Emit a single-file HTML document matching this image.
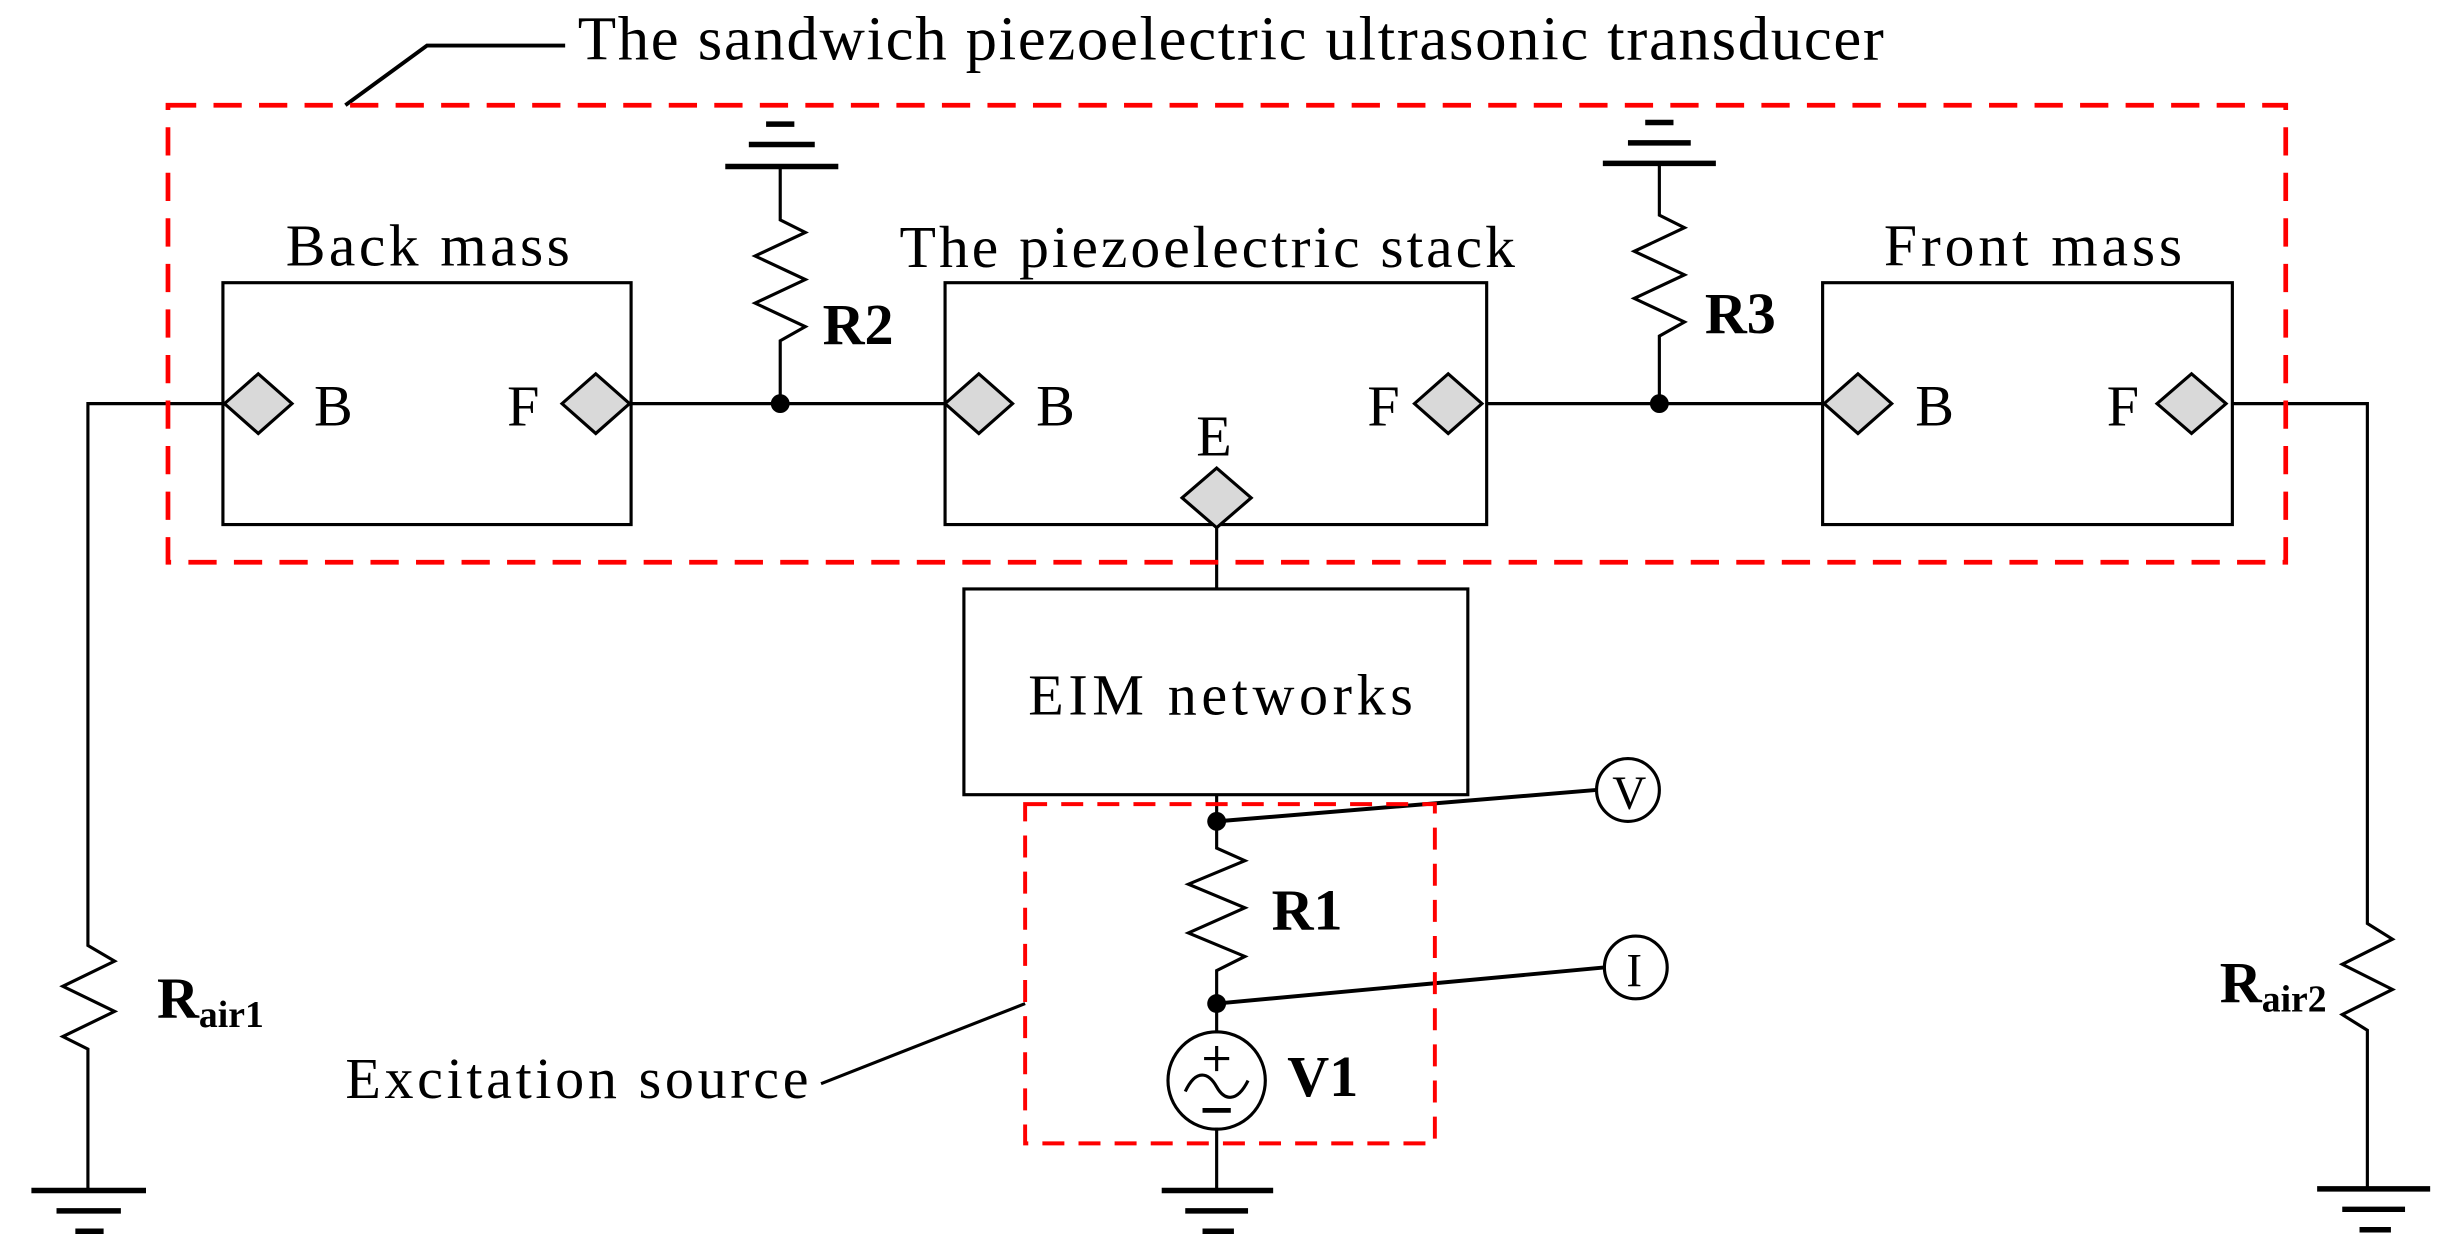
<!DOCTYPE html>
<html><head><meta charset="utf-8"><style>
html,body{margin:0;padding:0;background:#fff;}
svg{display:block;}
text{font-family:"Liberation Serif",serif;fill:#000;}
.b{font-weight:bold;}
</style></head><body>
<svg width="2449" height="1258" viewBox="0 0 1560 801" preserveAspectRatio="none" xmlns="http://www.w3.org/2000/svg">
<rect width="1560" height="801" fill="#fff"/>
<g fill="none" stroke="#000" stroke-width="2">
<!-- title leader -->
<polyline points="220,67 272,29 360,29" stroke-width="2.5"/>
<!-- boxes -->
<rect x="142" y="180" width="260" height="154"/>
<rect x="602" y="180" width="345" height="154"/>
<rect x="1161" y="180" width="261" height="154"/>
<rect x="614" y="375" width="321" height="131"/>
<!-- main wires -->
<polyline points="142,257 56,257 56,596"/>
<polyline points="56,596 56,602 73,612 40,628 73,644 40,660 56,668 56,758"/>
<line x1="402" y1="257" x2="602" y2="257"/>
<line x1="947" y1="257" x2="1161" y2="257"/>
<polyline points="1422,257 1508,257 1508,588 1524,598 1492,614 1524,630 1492,646 1508,656 1508,757"/>
<!-- R2 -->
<polyline points="497,106 497,140 513,148 481,163 513,178 481,193 513,208 497,217 497,257"/>
<!-- R3 -->
<polyline points="1057,104 1057,137 1073,145 1041,160 1073,175 1041,190 1073,205 1057,214 1057,257"/>
<!-- E to EIM -->
<line x1="775" y1="336" x2="775" y2="375"/>
<!-- bottom chain -->
<polyline points="775,506 775,540 793,548 757,563 793,578 757,594 793,609 775,618 775,658"/>
<line x1="775" y1="718" x2="775" y2="758"/>
<line x1="775" y1="523" x2="1017" y2="503" stroke-width="2.5"/>
<line x1="775" y1="639" x2="1022" y2="616" stroke-width="2.5"/>
<circle cx="1037" cy="503" r="20"/>
<circle cx="1042" cy="616" r="20"/>
<circle cx="775" cy="688" r="31"/>
<path d="M755,695 C762,680 770,683 775,692 C780,701 788,702 795,688"/>
<line x1="775" y1="666" x2="775" y2="682"/>
<line x1="767" y1="674" x2="783" y2="674"/>
<line x1="766" y1="707" x2="784" y2="707" stroke-width="3"/>
<!-- excitation leader -->
<line x1="523" y1="690" x2="653" y2="639"/>
<!-- grounds -->
<g stroke-width="3.5">
<line x1="462" y1="106" x2="534" y2="106"/><line x1="477" y1="92" x2="519" y2="92"/><line x1="488" y1="79" x2="506" y2="79"/>
<line x1="1021" y1="104" x2="1093" y2="104"/><line x1="1037" y1="91" x2="1077" y2="91"/><line x1="1048" y1="78" x2="1066" y2="78"/>
<line x1="20" y1="758" x2="93" y2="758"/><line x1="36" y1="771" x2="77" y2="771"/><line x1="48" y1="784" x2="66" y2="784"/>
<line x1="740" y1="758" x2="811" y2="758"/><line x1="755" y1="771" x2="795" y2="771"/><line x1="766" y1="784" x2="786" y2="784"/>
<line x1="1476" y1="757" x2="1548" y2="757"/><line x1="1492" y1="770" x2="1532" y2="770"/><line x1="1503" y1="783" x2="1523" y2="783"/>
</g>
</g>
<!-- red dashed boxes -->
<rect x="107" y="67" width="1349" height="291" fill="none" stroke="#f00" stroke-width="3" stroke-dasharray="18,11"/>
<rect x="653" y="512" width="261" height="216" fill="none" stroke="#f00" stroke-width="2.5" stroke-dasharray="14,9"/>
<!-- diamonds -->
<g fill="#d9d9d9" stroke="#000" stroke-width="2">
<polygon points="143,257 164.5,238 186,257 164.5,276"/>
<polygon points="358,257 379.5,238 401,257 379.5,276"/>
<polygon points="602,257 623.5,238 645,257 623.5,276"/>
<polygon points="901,257 922.5,238 944,257 922.5,276"/>
<polygon points="1162,257 1183.5,238 1205,257 1183.5,276"/>
<polygon points="1374,257 1396,238 1418,257 1396,276"/>
<polygon points="753,317 775,298 797,317 775,336"/>
</g>
<!-- dots -->
<g fill="#000"><circle cx="497" cy="257" r="6"/><circle cx="1057" cy="257" r="6"/><circle cx="775" cy="523" r="6"/><circle cx="775" cy="639" r="6"/></g>
<!-- text -->
<text x="368" y="38" font-size="40" textLength="832">The sandwich piezoelectric ultrasonic transducer</text>
<text x="182" y="169" font-size="38" textLength="181">Back mass</text>
<text x="573" y="170" font-size="38" textLength="392">The piezoelectric stack</text>
<text x="1200" y="169" font-size="38" textLength="190">Front mass</text>
<g font-size="37">
<text x="200" y="271">B</text><text x="323" y="271">F</text>
<text x="660" y="271">B</text><text x="871" y="271">F</text>
<text x="1220" y="271">B</text><text x="1342" y="271">F</text>
<text x="762" y="290">E</text>
<text x="655" y="455" textLength="245">EIM networks</text>
<text x="220" y="699" textLength="295">Excitation source</text>
</g>
<g class="b" font-size="37">
<text class="b" x="524" y="219">R2</text>
<text class="b" x="1086" y="212">R3</text>
<text class="b" x="810" y="592">R1</text>
<text class="b" x="820" y="698">V1</text>
<text class="b" x="100" y="648">R<tspan font-size="24" dy="6">air1</tspan></text>
<text class="b" x="1414" y="638">R<tspan font-size="24" dy="6">air2</tspan></text>
</g>
<text x="1027" y="515" font-size="30">V</text>
<text x="1036" y="628" font-size="30">I</text>
</svg>
</body></html>
